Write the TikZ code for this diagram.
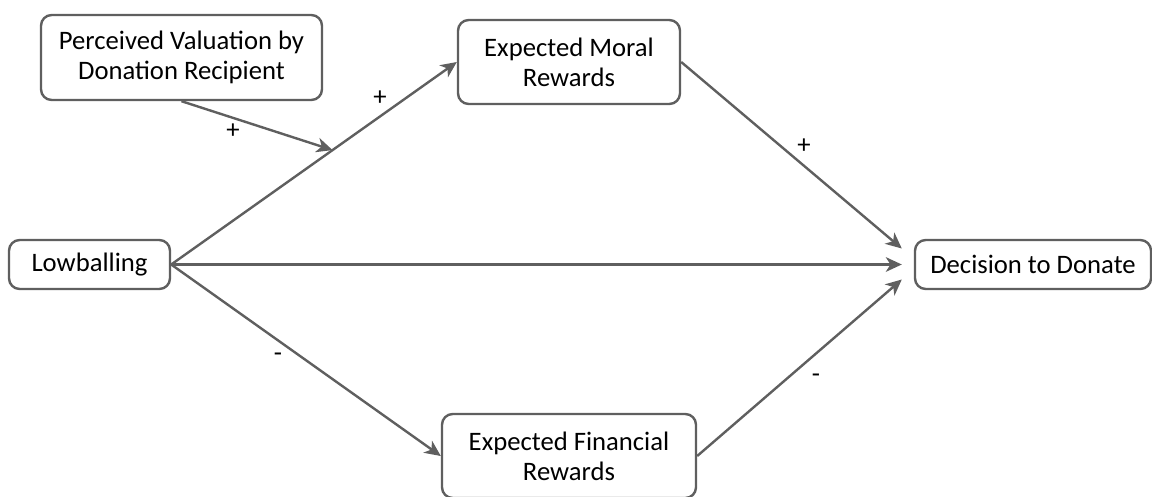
\documentclass[tikz,border=0pt]{standalone}
\usepackage{fontspec}
\setmainfont{Carlito}
\usetikzlibrary{arrows.meta}
\usetikzlibrary{calc}
\definecolor{linegray}{RGB}{95,95,95}
\tikzstyle{factor}=[draw=linegray,line width=1.8pt,rounded corners=8pt,align=center,inner sep=0pt,fill=white]
\tikzstyle{edge}=[draw=linegray,line width=1.8pt,-{Stealth[length=12pt,width=11pt,inset=3.5pt]}]
\tikzstyle{sign}=[inner sep=0pt]

\begin{document}
\begin{tikzpicture}[x=0.75pt,y=-0.75pt,font=\fontsize{20}{22.5}\selectfont]

  \useasboundingbox (0,0) rectangle (1152,496);

  % boxes
  \node[factor,minimum width=210.75pt,minimum height=63.75pt] (val) at (181.5,57.5) {Perceived Valuation by\\Donation Recipient};
  \node[factor,minimum width=166.5pt,minimum height=63pt] (moral) at (569,62) {Expected Moral\\Rewards};
  \node[factor,minimum width=190.5pt,minimum height=63pt] (fin) at (569,456) {Expected Financial\\Rewards};
  \node[factor,minimum width=120.75pt,minimum height=36.75pt] (low) at (89.5,264.5) {Lowballing};
  \node[factor,minimum width=177pt,minimum height=36.75pt] (dec) at (1033,264.5) {Decision to Donate};

  % arrow ends in front of the outcome box
  \coordinate (d1) at ($(dec.west)+(-12,-16)$);
  \coordinate (d2) at ($(dec.west)+(-12,0)$);
  \coordinate (d3) at ($(dec.west)+(-12,15)$);
  \coordinate (m) at ($(low.east)!0.565!(moral.west)$);

  \foreach \source/\dest in {low.east/moral.west, low.east/fin.west, moral.east/d1, low.east/d2, fin.east/d3, val.south/m}
    \draw[edge] (\source) -- (\dest);

  % signs
  \foreach \name/\x/\y/\label in {s1/380/98/+, s2/233/131/+, s3/804/146/+, s4/278/357/-, s5/816/378/-}
    \node[sign] (\name) at (\x,\y) {\label};

\end{tikzpicture}
\end{document}
